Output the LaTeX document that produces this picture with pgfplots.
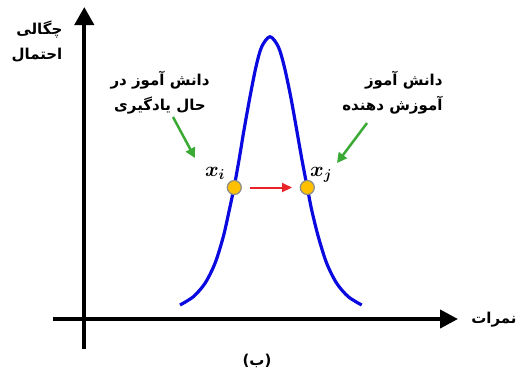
\documentclass[border=0pt]{standalone}
\usepackage{fontspec}
\usepackage{amsmath}
\usepackage{bm}
\usepackage{pgfplots}
\pgfplotsset{compat=1.18}
\usetikzlibrary{arrows.meta}
\TeXXeTstate=1
\newfontfamily\arabicfont[Script=Arabic, BoldFont={DejaVu Sans Bold}]{DejaVu Sans}
\definecolor{cblue}{HTML}{0A0AE0}
\definecolor{cgreen}{HTML}{3AAA35}
\definecolor{cred}{HTML}{E8242A}
\definecolor{cgold}{HTML}{FFC000}
\definecolor{cring}{HTML}{8C8C8C}
\newcommand{\fa}[1]{{\arabicfont\bfseries\beginR #1\endR}}

\begin{document}
\begin{tikzpicture}
\begin{axis}[
  width=518pt, height=378pt, scale only axis,
  xmin=0, xmax=518, ymin=0, ymax=378, y dir=reverse,
  hide axis, clip=false,
]
% axes
\addplot[black, line width=4pt, -{Triangle[length=18pt,width=19pt]}]
  coordinates {(84.3,349) (84.3,7)};
\addplot[black, line width=4pt, -{Triangle[length=18pt,width=18pt]}]
  coordinates {(53,319) (458,319)};
% density curve
\addplot[cblue, line width=3.2pt, smooth, tension=0.5] coordinates {
  (180,305) (193.3,296.7) (205,283.3) (215,263.3) (223.3,236.7)
  (229.3,210) (234,187.7) (239,160) (244,130) (250,96.7)
  (256,66.7) (261.7,46.7) (270,36.7) (278.3,46.7) (284.3,66.7)
  (290.7,96.7) (296.7,130) (302,160) (307.3,187.7) (311.7,210)
  (318.3,236.7) (326.7,263.3) (336.7,283.3) (348.3,296.7) (361.7,305)
};
% shift x_i -> x_j
\addplot[cred, line width=2pt, -{Triangle[length=10pt,width=9pt]}]
  coordinates {(250,187.5) (292,187.5)};
% green pointers
\addplot[cgreen, line width=2.5pt, -{Triangle[length=10pt,width=10pt]}]
  coordinates {(173,117) (195,158)};
\addplot[cgreen, line width=2.5pt, -{Triangle[length=10pt,width=10pt]}]
  coordinates {(367,123) (337,163)};
% students
\addplot[only marks, mark=*, mark size=7pt,
  mark options={fill=cgold, draw=cring, line width=1.2pt}]
  coordinates {(234.3,187.5) (307.3,187.5)};

\node[font=\fontsize{20}{20}\selectfont] at (axis cs:215,173) {$\bm{x_i}$};
\node[font=\fontsize{20}{20}\selectfont] at (axis cs:321,175) {$\bm{x_j}$};

\node[align=right, font=\fontsize{15}{25}\selectfont] at (axis cs:37,42)
  {\fa{چگالی}\\\fa{احتمال}};
\node[align=center, font=\fontsize{15}{25}\selectfont] at (axis cs:160,93)
  {\fa{دانش آموز در}\\\fa{حال یادگیری}};
\node[align=right, font=\fontsize{15}{25}\selectfont, anchor=east] at (axis cs:446,93)
  {\fa{دانش آموز}\\\fa{آموزش دهنده}};
\node[font=\fontsize{15}{15}\selectfont] at (axis cs:494,320) {\fa{نمرات}};
\node[font=\fontsize{15}{15}\selectfont] at (axis cs:257,361) {\fa{(ب)}};
\end{axis}
\pgfresetboundingbox
\useasboundingbox (current axis.south west) rectangle (current axis.north east);
\end{tikzpicture}
\end{document}
